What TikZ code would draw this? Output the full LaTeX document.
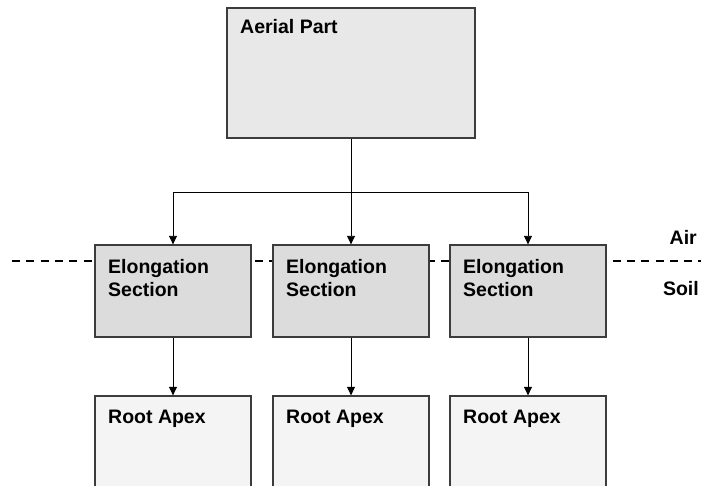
\documentclass[tikz,border=0pt]{standalone}
\usepackage{fontspec}
\setmainfont{Liberation Sans}
\usetikzlibrary{arrows.meta}
\definecolor{aerialfill}{HTML}{E8E8E8}
\definecolor{elongfill}{HTML}{DCDCDC}
\definecolor{rootfill}{HTML}{F4F4F4}
\definecolor{boxline}{HTML}{3C3C3C}
\tikzset{
  boxnode/.style={draw=boxline, line width=1.3pt, rectangle, inner sep=0pt},
  lbl/.style={inner sep=0pt, font=\fontsize{19.5}{23}\selectfont\bfseries, align=left, anchor=base west},
  conn/.style={line width=0.9pt, black},
  arr/.style={conn, -{Triangle[length=8.5pt,width=8pt]}},
  soildash/.style={line width=1.2pt, black, dash pattern=on 8pt off 6.3pt}
}
\begin{document}
\begin{tikzpicture}[x=1pt,y=-1pt]
\useasboundingbox (0,0) rectangle (701,486);
\clip (0,0) rectangle (701,486);
% ground line
\coordinate (dl) at (12,261);
\coordinate (dr) at (701,261);
\draw[soildash] (dl) -- (dr);
% aerial part
\node[boxnode, fill=aerialfill, minimum width=248pt, minimum height=130pt] (a) at (351,73) {};
\node[lbl] (at) at (240,34) {Aerial Part};
% elongation sections
\node[boxnode, fill=elongfill, minimum width=156pt, minimum height=92pt] (e1) at (173,291) {};
\node[boxnode, fill=elongfill, minimum width=156pt, minimum height=92pt] (e2) at (351,291) {};
\node[boxnode, fill=elongfill, minimum width=156pt, minimum height=92pt] (e3) at (528,291) {};
\node[lbl] (e1t) at (108,296) {Elongation\\Section};
\node[lbl] (e2t) at (286,296) {Elongation\\Section};
\node[lbl] (e3t) at (463,296) {Elongation\\Section};
% root apex
\node[boxnode, fill=rootfill, minimum width=156pt, minimum height=110pt] (r1) at (173,451) {};
\node[boxnode, fill=rootfill, minimum width=156pt, minimum height=110pt] (r2) at (351,451) {};
\node[boxnode, fill=rootfill, minimum width=156pt, minimum height=110pt] (r3) at (528,451) {};
\node[lbl] (r1t) at (108,423) {Root Apex};
\node[lbl] (r2t) at (286,423) {Root Apex};
\node[lbl] (r3t) at (463,423) {Root Apex};
% air / soil
\node[lbl, anchor=base east] (air) at (697,245) {Air};
\node[lbl, anchor=base east] (soil) at (699,295) {Soil};
% connectors
\coordinate (j1) at (e1.north |- 0,192);
\coordinate (j2) at (a.south |- 0,192);
\coordinate (j3) at (e3.north |- 0,192);
\draw[conn] (a.south) -- (j2);
\draw[conn] (j1) -- (j3);
\draw[arr] (j1) -- (e1.north);
\draw[arr] (j2) -- (e2.north);
\draw[arr] (j3) -- (e3.north);
\draw[arr] (e1.south) -- (r1.north);
\draw[arr] (e2.south) -- (r2.north);
\draw[arr] (e3.south) -- (r3.north);
\end{tikzpicture}
\end{document}
